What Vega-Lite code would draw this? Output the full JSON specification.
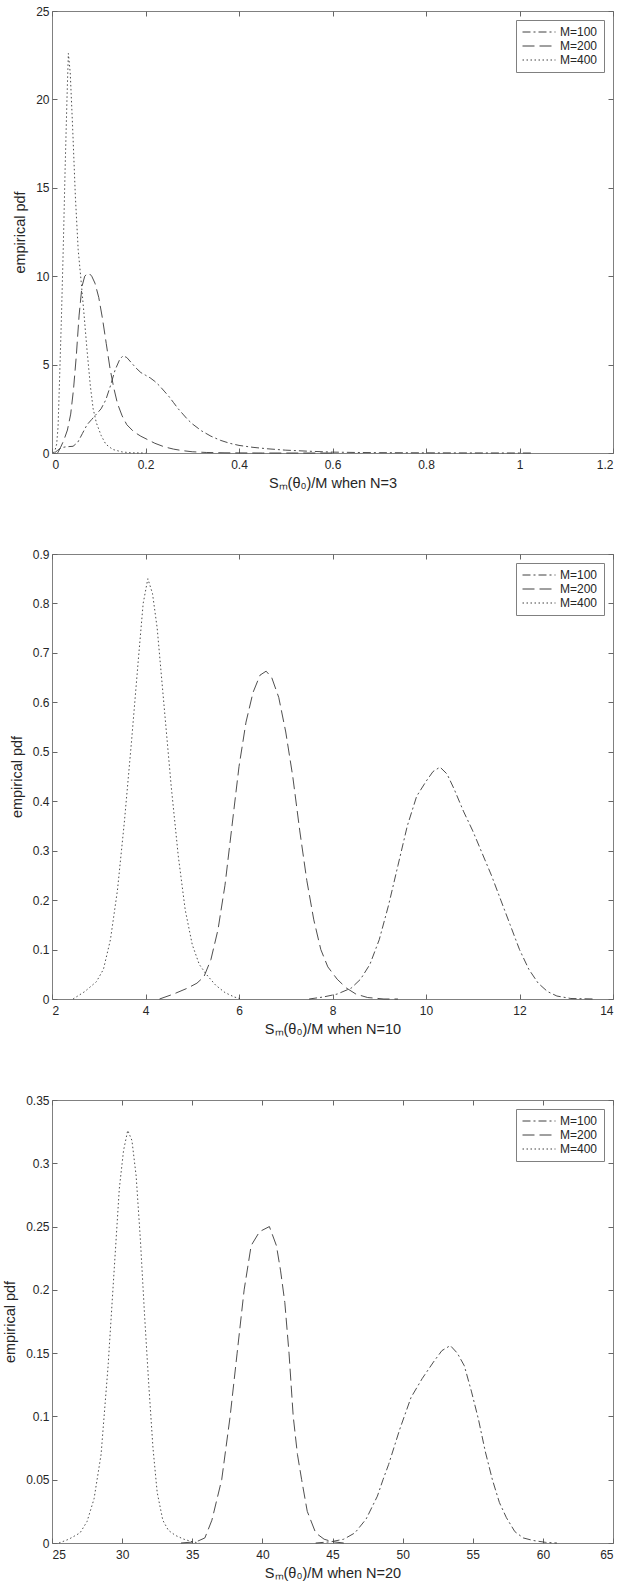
{
  "$schema": "https://vega.github.io/schema/vega-lite/v6.json",
  "background": "white",
  "padding": {"left": 2, "top": 4, "right": 5, "bottom": 5},
  "bounds": "flush",
  "datasets": {
    "n3": [
      {"M": "M=400", "x": 0.003, "y": 0},
      {"M": "M=400", "x": 0.007, "y": 0.2},
      {"M": "M=400", "x": 0.01, "y": 0.5},
      {"M": "M=400", "x": 0.013, "y": 1.5},
      {"M": "M=400", "x": 0.016, "y": 4},
      {"M": "M=400", "x": 0.02, "y": 7.5},
      {"M": "M=400", "x": 0.024, "y": 11.5},
      {"M": "M=400", "x": 0.028, "y": 16},
      {"M": "M=400", "x": 0.032, "y": 20},
      {"M": "M=400", "x": 0.035, "y": 22.6},
      {"M": "M=400", "x": 0.039, "y": 21.5},
      {"M": "M=400", "x": 0.044, "y": 18.5},
      {"M": "M=400", "x": 0.05, "y": 14.5},
      {"M": "M=400", "x": 0.056, "y": 11.5},
      {"M": "M=400", "x": 0.062, "y": 9.8},
      {"M": "M=400", "x": 0.068, "y": 8},
      {"M": "M=400", "x": 0.075, "y": 5.8},
      {"M": "M=400", "x": 0.082, "y": 3.8},
      {"M": "M=400", "x": 0.088, "y": 2.5},
      {"M": "M=400", "x": 0.095, "y": 1.7},
      {"M": "M=400", "x": 0.105, "y": 1},
      {"M": "M=400", "x": 0.115, "y": 0.5},
      {"M": "M=400", "x": 0.13, "y": 0.2},
      {"M": "M=400", "x": 0.15, "y": 0.06},
      {"M": "M=400", "x": 0.17, "y": 0.01},
      {"M": "M=400", "x": 0.2, "y": 0},
      {"M": "M=200", "x": 0.012, "y": 0},
      {"M": "M=200", "x": 0.018, "y": 0.3},
      {"M": "M=200", "x": 0.025, "y": 0.7},
      {"M": "M=200", "x": 0.033, "y": 1.3},
      {"M": "M=200", "x": 0.04, "y": 2.2},
      {"M": "M=200", "x": 0.046, "y": 3.6},
      {"M": "M=200", "x": 0.052, "y": 5.5},
      {"M": "M=200", "x": 0.058, "y": 7.8},
      {"M": "M=200", "x": 0.064, "y": 9.4},
      {"M": "M=200", "x": 0.07, "y": 10},
      {"M": "M=200", "x": 0.078, "y": 10.2},
      {"M": "M=200", "x": 0.085, "y": 10},
      {"M": "M=200", "x": 0.092, "y": 9.6},
      {"M": "M=200", "x": 0.1, "y": 8.8},
      {"M": "M=200", "x": 0.108, "y": 7.6},
      {"M": "M=200", "x": 0.116, "y": 6.2},
      {"M": "M=200", "x": 0.124, "y": 4.8},
      {"M": "M=200", "x": 0.132, "y": 3.7},
      {"M": "M=200", "x": 0.14, "y": 2.8},
      {"M": "M=200", "x": 0.15, "y": 2.1},
      {"M": "M=200", "x": 0.16, "y": 1.6},
      {"M": "M=200", "x": 0.175, "y": 1.2},
      {"M": "M=200", "x": 0.19, "y": 0.95},
      {"M": "M=200", "x": 0.205, "y": 0.75},
      {"M": "M=200", "x": 0.22, "y": 0.55},
      {"M": "M=200", "x": 0.24, "y": 0.35},
      {"M": "M=200", "x": 0.26, "y": 0.22},
      {"M": "M=200", "x": 0.28, "y": 0.13},
      {"M": "M=200", "x": 0.3, "y": 0.07},
      {"M": "M=200", "x": 0.33, "y": 0.03},
      {"M": "M=200", "x": 0.37, "y": 0.01},
      {"M": "M=200", "x": 0.45, "y": 0},
      {"M": "M=200", "x": 0.6, "y": 0},
      {"M": "M=100", "x": 0.005, "y": 0},
      {"M": "M=100", "x": 0.012, "y": 0.15},
      {"M": "M=100", "x": 0.02, "y": 0.3},
      {"M": "M=100", "x": 0.03, "y": 0.35},
      {"M": "M=100", "x": 0.045, "y": 0.38},
      {"M": "M=100", "x": 0.055, "y": 0.6},
      {"M": "M=100", "x": 0.065, "y": 1.1},
      {"M": "M=100", "x": 0.075, "y": 1.6},
      {"M": "M=100", "x": 0.085, "y": 1.9},
      {"M": "M=100", "x": 0.095, "y": 2.2},
      {"M": "M=100", "x": 0.105, "y": 2.5},
      {"M": "M=100", "x": 0.115, "y": 3},
      {"M": "M=100", "x": 0.125, "y": 3.8},
      {"M": "M=100", "x": 0.135, "y": 4.7},
      {"M": "M=100", "x": 0.145, "y": 5.3},
      {"M": "M=100", "x": 0.152, "y": 5.5},
      {"M": "M=100", "x": 0.16, "y": 5.4},
      {"M": "M=100", "x": 0.17, "y": 5.1},
      {"M": "M=100", "x": 0.18, "y": 4.8},
      {"M": "M=100", "x": 0.19, "y": 4.55},
      {"M": "M=100", "x": 0.2, "y": 4.4},
      {"M": "M=100", "x": 0.21, "y": 4.25},
      {"M": "M=100", "x": 0.22, "y": 4.05},
      {"M": "M=100", "x": 0.23, "y": 3.8},
      {"M": "M=100", "x": 0.24, "y": 3.5},
      {"M": "M=100", "x": 0.25, "y": 3.2},
      {"M": "M=100", "x": 0.26, "y": 2.85},
      {"M": "M=100", "x": 0.27, "y": 2.5},
      {"M": "M=100", "x": 0.28, "y": 2.2},
      {"M": "M=100", "x": 0.29, "y": 1.9},
      {"M": "M=100", "x": 0.3, "y": 1.65},
      {"M": "M=100", "x": 0.32, "y": 1.25},
      {"M": "M=100", "x": 0.34, "y": 0.95},
      {"M": "M=100", "x": 0.36, "y": 0.72},
      {"M": "M=100", "x": 0.38, "y": 0.55},
      {"M": "M=100", "x": 0.4, "y": 0.43},
      {"M": "M=100", "x": 0.43, "y": 0.32},
      {"M": "M=100", "x": 0.46, "y": 0.24},
      {"M": "M=100", "x": 0.5, "y": 0.16},
      {"M": "M=100", "x": 0.55, "y": 0.1},
      {"M": "M=100", "x": 0.6, "y": 0.05},
      {"M": "M=100", "x": 0.65, "y": 0.03},
      {"M": "M=100", "x": 0.7, "y": 0.02},
      {"M": "M=100", "x": 0.8, "y": 0.01},
      {"M": "M=100", "x": 0.9, "y": 0.005},
      {"M": "M=100", "x": 1.03, "y": 0}
    ],
    "n10": [
      {"M": "M=400", "x": 2.45, "y": 0},
      {"M": "M=400", "x": 2.7, "y": 0.015},
      {"M": "M=400", "x": 2.95, "y": 0.035},
      {"M": "M=400", "x": 3.1, "y": 0.06},
      {"M": "M=400", "x": 3.25, "y": 0.12},
      {"M": "M=400", "x": 3.4, "y": 0.22},
      {"M": "M=400", "x": 3.55, "y": 0.36},
      {"M": "M=400", "x": 3.7, "y": 0.52},
      {"M": "M=400", "x": 3.85, "y": 0.69},
      {"M": "M=400", "x": 3.95, "y": 0.8},
      {"M": "M=400", "x": 4.05, "y": 0.85},
      {"M": "M=400", "x": 4.15, "y": 0.82},
      {"M": "M=400", "x": 4.25, "y": 0.75},
      {"M": "M=400", "x": 4.4, "y": 0.59},
      {"M": "M=400", "x": 4.55, "y": 0.43},
      {"M": "M=400", "x": 4.7, "y": 0.29},
      {"M": "M=400", "x": 4.85, "y": 0.18},
      {"M": "M=400", "x": 5.0, "y": 0.11},
      {"M": "M=400", "x": 5.15, "y": 0.07},
      {"M": "M=400", "x": 5.3, "y": 0.05},
      {"M": "M=400", "x": 5.5, "y": 0.028},
      {"M": "M=400", "x": 5.7, "y": 0.013},
      {"M": "M=400", "x": 5.9, "y": 0.004},
      {"M": "M=400", "x": 6.05, "y": 0},
      {"M": "M=200", "x": 4.3, "y": 0},
      {"M": "M=200", "x": 4.6, "y": 0.01},
      {"M": "M=200", "x": 4.9, "y": 0.022},
      {"M": "M=200", "x": 5.1, "y": 0.032},
      {"M": "M=200", "x": 5.25, "y": 0.045},
      {"M": "M=200", "x": 5.4, "y": 0.08},
      {"M": "M=200", "x": 5.55, "y": 0.14},
      {"M": "M=200", "x": 5.7, "y": 0.23},
      {"M": "M=200", "x": 5.85, "y": 0.35},
      {"M": "M=200", "x": 6.0, "y": 0.47},
      {"M": "M=200", "x": 6.15, "y": 0.56},
      {"M": "M=200", "x": 6.3, "y": 0.62},
      {"M": "M=200", "x": 6.45, "y": 0.655},
      {"M": "M=200", "x": 6.58, "y": 0.663},
      {"M": "M=200", "x": 6.7, "y": 0.65},
      {"M": "M=200", "x": 6.85, "y": 0.61},
      {"M": "M=200", "x": 7.0, "y": 0.54},
      {"M": "M=200", "x": 7.15, "y": 0.45},
      {"M": "M=200", "x": 7.3, "y": 0.34},
      {"M": "M=200", "x": 7.45, "y": 0.24},
      {"M": "M=200", "x": 7.6, "y": 0.16},
      {"M": "M=200", "x": 7.75, "y": 0.1},
      {"M": "M=200", "x": 7.9, "y": 0.065},
      {"M": "M=200", "x": 8.1, "y": 0.04},
      {"M": "M=200", "x": 8.3, "y": 0.022},
      {"M": "M=200", "x": 8.5, "y": 0.01},
      {"M": "M=200", "x": 8.75, "y": 0.003},
      {"M": "M=200", "x": 9.1, "y": 0},
      {"M": "M=200", "x": 9.4, "y": 0},
      {"M": "M=100", "x": 7.5, "y": 0},
      {"M": "M=100", "x": 7.8, "y": 0.004},
      {"M": "M=100", "x": 8.1, "y": 0.01},
      {"M": "M=100", "x": 8.4, "y": 0.022},
      {"M": "M=100", "x": 8.6, "y": 0.04},
      {"M": "M=100", "x": 8.8, "y": 0.07},
      {"M": "M=100", "x": 9.0, "y": 0.12},
      {"M": "M=100", "x": 9.2, "y": 0.19},
      {"M": "M=100", "x": 9.4, "y": 0.27},
      {"M": "M=100", "x": 9.6, "y": 0.35},
      {"M": "M=100", "x": 9.8, "y": 0.41},
      {"M": "M=100", "x": 10.0, "y": 0.44},
      {"M": "M=100", "x": 10.15, "y": 0.46},
      {"M": "M=100", "x": 10.3, "y": 0.469},
      {"M": "M=100", "x": 10.45, "y": 0.455},
      {"M": "M=100", "x": 10.6, "y": 0.425},
      {"M": "M=100", "x": 10.8, "y": 0.38},
      {"M": "M=100", "x": 11.0, "y": 0.34},
      {"M": "M=100", "x": 11.2, "y": 0.295},
      {"M": "M=100", "x": 11.4, "y": 0.25},
      {"M": "M=100", "x": 11.6, "y": 0.2},
      {"M": "M=100", "x": 11.8, "y": 0.15},
      {"M": "M=100", "x": 12.0, "y": 0.1},
      {"M": "M=100", "x": 12.2, "y": 0.06},
      {"M": "M=100", "x": 12.4, "y": 0.032},
      {"M": "M=100", "x": 12.6, "y": 0.015},
      {"M": "M=100", "x": 12.8, "y": 0.006},
      {"M": "M=100", "x": 13.1, "y": 0.001},
      {"M": "M=100", "x": 13.6, "y": 0}
    ],
    "n20": [
      {"M": "M=400", "x": 25.5, "y": 0},
      {"M": "M=400", "x": 26.2, "y": 0.003},
      {"M": "M=400", "x": 27.0, "y": 0.008},
      {"M": "M=400", "x": 27.5, "y": 0.017},
      {"M": "M=400", "x": 28.0, "y": 0.035},
      {"M": "M=400", "x": 28.5, "y": 0.07},
      {"M": "M=400", "x": 29.0, "y": 0.14},
      {"M": "M=400", "x": 29.4, "y": 0.21},
      {"M": "M=400", "x": 29.8, "y": 0.28},
      {"M": "M=400", "x": 30.1, "y": 0.31},
      {"M": "M=400", "x": 30.4, "y": 0.326},
      {"M": "M=400", "x": 30.7, "y": 0.318},
      {"M": "M=400", "x": 31.0, "y": 0.29},
      {"M": "M=400", "x": 31.3, "y": 0.24},
      {"M": "M=400", "x": 31.6, "y": 0.18},
      {"M": "M=400", "x": 31.9, "y": 0.125},
      {"M": "M=400", "x": 32.2, "y": 0.075},
      {"M": "M=400", "x": 32.5, "y": 0.04},
      {"M": "M=400", "x": 32.9, "y": 0.018},
      {"M": "M=400", "x": 33.3, "y": 0.01},
      {"M": "M=400", "x": 33.8, "y": 0.006},
      {"M": "M=400", "x": 34.4, "y": 0.003},
      {"M": "M=400", "x": 35.0, "y": 0.001},
      {"M": "M=400", "x": 35.5, "y": 0},
      {"M": "M=200", "x": 34.2, "y": 0},
      {"M": "M=200", "x": 35.3, "y": 0.001},
      {"M": "M=200", "x": 35.9, "y": 0.004},
      {"M": "M=200", "x": 36.4, "y": 0.018},
      {"M": "M=200", "x": 37.1, "y": 0.05},
      {"M": "M=200", "x": 37.7, "y": 0.1},
      {"M": "M=200", "x": 38.2, "y": 0.15},
      {"M": "M=200", "x": 38.7, "y": 0.2},
      {"M": "M=200", "x": 39.2, "y": 0.235},
      {"M": "M=200", "x": 39.8, "y": 0.246},
      {"M": "M=200", "x": 40.5, "y": 0.25},
      {"M": "M=200", "x": 41.0, "y": 0.235},
      {"M": "M=200", "x": 41.3, "y": 0.215},
      {"M": "M=200", "x": 41.6, "y": 0.19},
      {"M": "M=200", "x": 41.9, "y": 0.15},
      {"M": "M=200", "x": 42.2, "y": 0.1},
      {"M": "M=200", "x": 42.5, "y": 0.07},
      {"M": "M=200", "x": 42.8, "y": 0.05},
      {"M": "M=200", "x": 43.2, "y": 0.025},
      {"M": "M=200", "x": 43.8, "y": 0.008},
      {"M": "M=200", "x": 44.4, "y": 0.003},
      {"M": "M=200", "x": 45.0, "y": 0.001},
      {"M": "M=200", "x": 45.8, "y": 0},
      {"M": "M=100", "x": 43.8, "y": 0},
      {"M": "M=100", "x": 44.9, "y": 0.001},
      {"M": "M=100", "x": 45.8, "y": 0.003},
      {"M": "M=100", "x": 46.6, "y": 0.008},
      {"M": "M=100", "x": 47.4, "y": 0.019},
      {"M": "M=100", "x": 48.2, "y": 0.037},
      {"M": "M=100", "x": 48.6, "y": 0.05},
      {"M": "M=100", "x": 49.0, "y": 0.062},
      {"M": "M=100", "x": 49.8, "y": 0.09},
      {"M": "M=100", "x": 50.6, "y": 0.115},
      {"M": "M=100", "x": 51.4, "y": 0.13},
      {"M": "M=100", "x": 52.2, "y": 0.143},
      {"M": "M=100", "x": 52.8, "y": 0.152},
      {"M": "M=100", "x": 53.4, "y": 0.156},
      {"M": "M=100", "x": 53.9, "y": 0.15},
      {"M": "M=100", "x": 54.4, "y": 0.14},
      {"M": "M=100", "x": 54.9, "y": 0.12},
      {"M": "M=100", "x": 55.4, "y": 0.098},
      {"M": "M=100", "x": 55.9, "y": 0.072},
      {"M": "M=100", "x": 56.4, "y": 0.05},
      {"M": "M=100", "x": 56.9, "y": 0.032},
      {"M": "M=100", "x": 57.4, "y": 0.02},
      {"M": "M=100", "x": 58.0, "y": 0.009},
      {"M": "M=100", "x": 58.6, "y": 0.004},
      {"M": "M=100", "x": 59.3, "y": 0.002},
      {"M": "M=100", "x": 60.2, "y": 0.0005},
      {"M": "M=100", "x": 61.0, "y": 0}
    ]
  },
  "config": {
    "font": "Liberation Sans",
    "view": {"stroke": "#808080", "strokeWidth": 1},
    "axis": {
      "grid": false,
      "domain": false,
      "tickColor": "#666666",
      "tickSize": -5,
      "tickWidth": 1,
      "labelFontSize": 12,
      "labelColor": "#262626",
      "titleFontSize": 14.5,
      "titleFontWeight": "normal",
      "titleColor": "#262626"
    },
    "axisX": {"labelPadding": 11, "titlePadding": 6},
    "axisY": {"labelPadding": 8, "titlePadding": 8},
    "legend": {
      "orient": "top-right",
      "offset": 9,
      "strokeColor": "#808080",
      "fillColor": "white",
      "padding": 6,
      "labelFontSize": 12,
      "labelColor": "#262626",
      "labelOffset": 26,
      "symbolType": "M-1,0H5",
      "symbolSize": 121,
      "symbolStrokeWidth": 1,
      "symbolStrokeColor": "#404040",
      "rowPadding": 2
    }
  },
  "spacing": 101,
  "vconcat": [
    {
      "width": 561,
      "height": 442,
      "layer": [
        {
          "data": {"name": "n3"},
          "mark": {"type": "line", "stroke": "#3a3a3a", "strokeWidth": 0.9},
          "encoding": {
            "x": {"field": "x", "type": "quantitative", "scale": {"domain": [0, 1.2], "nice": false},
                  "axis": {"values": [0, 0.2, 0.4, 0.6, 0.8, 1, 1.2], "format": "~g", "title": "Sₘ(θ₀)/M when N=3"}},
            "y": {"field": "y", "type": "quantitative", "scale": {"domain": [0, 25], "nice": false},
                  "axis": {"values": [0, 5, 10, 15, 20, 25], "format": "~g", "title": "empirical pdf"}},
            "strokeDash": {"field": "M", "type": "nominal",
                  "scale": {"domain": ["M=100", "M=200", "M=400"], "range": [[8, 3, 2, 3], [12, 5], [1.5, 2.5]]},
                  "legend": {"title": null}}
          }
        },
        {
          "data": {"name": "n3"},
          "mark": {"type": "line", "opacity": 0},
          "encoding": {
            "x": {"field": "x", "type": "quantitative", "axis": {"orient": "top", "values": [0, 0.2, 0.4, 0.6, 0.8, 1, 1.2], "labels": false, "title": null}},
            "y": {"field": "y", "type": "quantitative", "axis": {"orient": "right", "values": [0, 5, 10, 15, 20, 25], "labels": false, "title": null}}
          }
        }
      ],
      "resolve": {"axis": {"x": "independent", "y": "independent"}}
    },
    {
      "width": 561,
      "height": 445,
      "layer": [
        {
          "data": {"name": "n10"},
          "mark": {"type": "line", "stroke": "#3a3a3a", "strokeWidth": 0.9},
          "encoding": {
            "x": {"field": "x", "type": "quantitative", "scale": {"domain": [2, 14], "nice": false},
                  "axis": {"values": [2, 4, 6, 8, 10, 12, 14], "format": "~g", "title": "Sₘ(θ₀)/M when N=10"}},
            "y": {"field": "y", "type": "quantitative", "scale": {"domain": [0, 0.9], "nice": false},
                  "axis": {"values": [0, 0.1, 0.2, 0.3, 0.4, 0.5, 0.6, 0.7, 0.8, 0.9], "format": "~g", "title": "empirical pdf"}},
            "strokeDash": {"field": "M", "type": "nominal",
                  "scale": {"domain": ["M=100", "M=200", "M=400"], "range": [[8, 3, 2, 3], [12, 5], [1.5, 2.5]]},
                  "legend": {"title": null}}
          }
        },
        {
          "data": {"name": "n10"},
          "mark": {"type": "line", "opacity": 0},
          "encoding": {
            "x": {"field": "x", "type": "quantitative", "axis": {"orient": "top", "values": [2, 4, 6, 8, 10, 12, 14], "labels": false, "title": null}},
            "y": {"field": "y", "type": "quantitative", "axis": {"orient": "right", "values": [0, 0.1, 0.2, 0.3, 0.4, 0.5, 0.6, 0.7, 0.8, 0.9], "labels": false, "title": null}}
          }
        }
      ],
      "resolve": {"axis": {"x": "independent", "y": "independent"}}
    },
    {
      "width": 561,
      "height": 443,
      "layer": [
        {
          "data": {"name": "n20"},
          "mark": {"type": "line", "stroke": "#3a3a3a", "strokeWidth": 0.9},
          "encoding": {
            "x": {"field": "x", "type": "quantitative", "scale": {"domain": [25, 65], "nice": false},
                  "axis": {"values": [25, 30, 35, 40, 45, 50, 55, 60, 65], "format": "~g", "title": "Sₘ(θ₀)/M when N=20"}},
            "y": {"field": "y", "type": "quantitative", "scale": {"domain": [0, 0.35], "nice": false},
                  "axis": {"values": [0, 0.05, 0.1, 0.15, 0.2, 0.25, 0.3, 0.35], "format": "~g", "title": "empirical pdf"}},
            "strokeDash": {"field": "M", "type": "nominal",
                  "scale": {"domain": ["M=100", "M=200", "M=400"], "range": [[8, 3, 2, 3], [12, 5], [1.5, 2.5]]},
                  "legend": {"title": null}}
          }
        },
        {
          "data": {"name": "n20"},
          "mark": {"type": "line", "opacity": 0},
          "encoding": {
            "x": {"field": "x", "type": "quantitative", "axis": {"orient": "top", "values": [25, 30, 35, 40, 45, 50, 55, 60, 65], "labels": false, "title": null}},
            "y": {"field": "y", "type": "quantitative", "axis": {"orient": "right", "values": [0, 0.05, 0.1, 0.15, 0.2, 0.25, 0.3, 0.35], "labels": false, "title": null}}
          }
        }
      ],
      "resolve": {"axis": {"x": "independent", "y": "independent"}}
    }
  ],
  "resolve": {
    "scale": {"x": "independent", "y": "independent", "strokeDash": "independent"},
    "legend": {"strokeDash": "independent"}
  }
}
